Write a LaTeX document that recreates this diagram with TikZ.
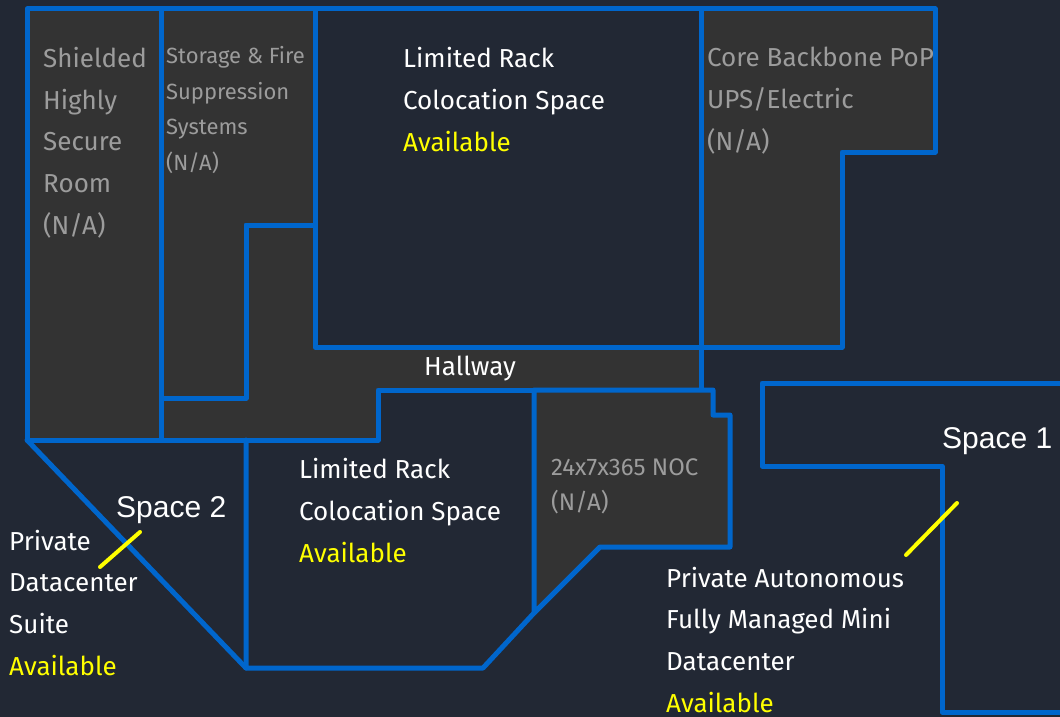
\documentclass[tikz,border=0pt]{standalone}
\usepackage{fontspec}
\setmainfont{Fira Sans}
\setsansfont{Liberation Sans}
\definecolor{bg}{HTML}{222834}
\definecolor{roomfill}{HTML}{333333}
\definecolor{wallblue}{HTML}{0066CC}
\definecolor{nagray}{HTML}{9C9C9C}
\definecolor{availyellow}{HTML}{FFFF00}
\begin{document}
\begin{tikzpicture}[x=1pt, y=-1pt, line join=round, line cap=round,
  wall/.style={draw=wallblue, line width=5pt},
  grayroom/.style={wall, fill=roomfill},
  label/.style={anchor=base west, align=left, inner sep=0pt, text=white,
    font=\fontsize{26}{41.6}\selectfont},
  smalllabel/.style={label, text=nagray, font=\fontsize{22}{35.5}\selectfont},
  spacelabel/.style={anchor=base west, inner sep=0pt, text=white,
    font=\sffamily\fontsize{30}{30}\selectfont},
  tick/.style={draw=availyellow, line width=4pt}]
\fill[bg] (0,0) rectangle (1060,717);
\useasboundingbox (0,0) rectangle (1060,717);
% rooms
\draw[grayroom] (27,9)--(161,9)--(161,440)--(27,440)--cycle;
\draw[grayroom] (161,9)--(315,9)--(315,225)--(246,225)--(246,398)--(161,398)--cycle;
\draw[wall] (315,9)--(701,9)--(701,347)--(315,347)--cycle;
\draw[grayroom] (701,9)--(935,9)--(935,152)--(842,152)--(842,347)--(701,347)--cycle;
\draw[grayroom] (246,225)--(315,225)--(315,347)--(701,347)--(701,390)--(378,390)
  --(378,440)--(161,440)--(161,398)--(246,398)--cycle;
\draw[grayroom] (534,390)--(713,390)--(713,415)--(730,415)--(730,547)--(600,547)
  --(534,613)--cycle;
\draw[wall] (534,613)--(483,668)--(246,668)--(246,440);
\draw[wall] (27,440)--(246,668);
\draw[wall] (1065,383)--(762,383)--(762,466)--(942,466)--(942,712)--(1065,712);
% texts (placed at the baseline of their last line)
\node[label, text=nagray] (shielded) at (43,234)
  {Shielded\\Highly\\Secure\\Room\\(N/A)};
\node[smalllabel] (storage) at (166,170)
  {Storage \& Fire\\Suppression\\Systems\\(N/A)};
\node[label] (racktop) at (403,151)
  {Limited Rack\\Colocation Space\\\textcolor{availyellow}{Available}};
\node[label, text=nagray] (core) at (707,150)
  {Core Backbone PoP\\UPS/Electric\\(N/A)};
\node[label, anchor=base] (hallway) at (470,375) {Hallway};
\node[label] (rackbottom) at (299,562)
  {Limited Rack\\Colocation Space\\\textcolor{availyellow}{Available}};
\node[smalllabel, font=\fontsize{24}{35}\selectfont] (noc) at (551,510)
  {24x7x365 NOC\\(N/A)};
\node[label] (suite) at (9,675)
  {Private\\Datacenter\\Suite\\\textcolor{availyellow}{Available}};
\node[label] (mini) at (666,712)
  {Private Autonomous\\Fully Managed Mini\\Datacenter\\\textcolor{availyellow}{Available}};
\node[spacelabel] (space2) at (116,517) {Space 2};
\node[spacelabel] (space1) at (942,448) {Space 1};
% ticks
\coordinate (t2a) at (100,567);
\coordinate (t2b) at (140,532);
\coordinate (t1a) at (906,555);
\coordinate (t1b) at (957,503);
\draw[tick] (t2a)--(t2b);
\draw[tick] (t1a)--(t1b);
\end{tikzpicture}
\end{document}
